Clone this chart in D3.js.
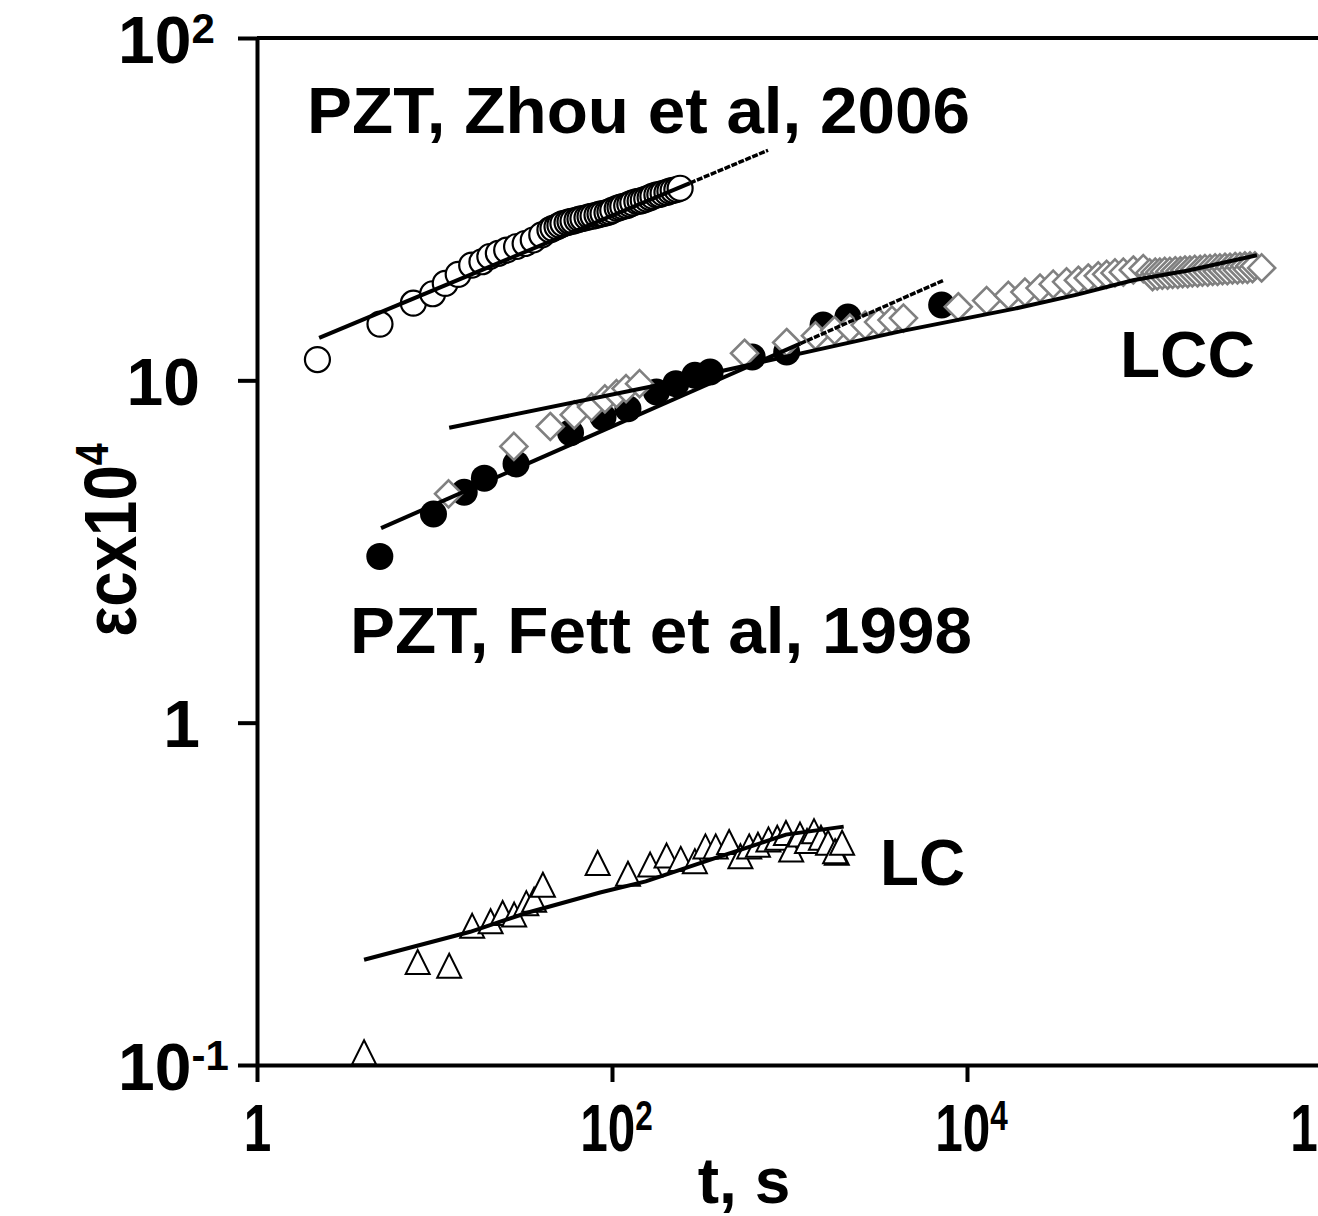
<!DOCTYPE html>
<html>
<head>
<meta charset="utf-8">
<script src="https://cdn.jsdelivr.net/npm/d3@7"></script>
<style>
  body { margin: 0; background: #fff; }
  svg { display: block; }
  text { font-family: Arial, "Liberation Sans", sans-serif; font-weight: bold; fill: #000; }
</style>
</head>
<body>
<svg id="chart" width="1318" height="1216"></svg>
<script>
// ---- data: [t (s), strain x 10^4] ----
const zhouPoints = [
  [2.19, 11.5], [4.93, 14.6], [7.6, 16.8], [9.77, 17.9], [11.5, 19.2], [13.6, 20.4], [16.2, 21.7],
  [18.5, 22.2], [20.5, 23.0], [22.9, 23.5], [25.5, 24.0], [29.0, 24.6], [32.4, 25.1], [36.0, 25.7],
  [40.2, 26.6], [44.7, 27.5], [46.5, 27.8], [49.0, 28.1], [50.9, 28.4], [52.9, 28.7], [55.8, 28.9],
  [58.0, 29.1], [60.3, 29.2], [63.5, 29.4], [66.0, 29.6], [68.6, 29.7], [72.3, 29.9], [75.2, 30.1],
  [78.2, 30.2], [82.3, 30.4], [85.6, 30.6], [89.0, 30.7], [93.7, 30.9], [97.4, 31.1], [101, 31.4],
  [107, 31.8], [111, 32.0], [115, 32.2], [121, 32.4], [126, 32.7], [131, 33.0], [138, 33.3],
  [144, 33.4], [150, 33.6], [157, 33.9], [164, 34.2], [170, 34.5], [179, 34.8], [186, 34.9],
  [194, 35.2], [204, 35.4], [212, 35.7], [221, 35.9], [232, 36.1], [242, 36.4]
];

const fettPoints = [
  [4.92, 3.06], [9.87, 4.07], [14.7, 4.71], [19.1, 5.18], [28.8, 5.70], [58.4, 7.03], [89.0, 7.81],
  [123, 8.26], [178, 9.25], [229, 9.78], [293, 10.35], [357, 10.58], [617, 11.7], [964, 12.1],
  [1546, 14.5], [2133, 15.3], [7199, 16.6]
];

const lccPoints = [
  [12.0, 4.66], [28.0, 6.41], [44.9, 7.33], [61.3, 7.93], [76.7, 8.36], [91.2, 8.83], [106, 9.14],
  [120, 9.46], [143, 9.78], [558, 12.0], [964, 12.9], [1400, 13.5], [1795, 14.0], [2188, 14.2],
  [2670, 14.5], [3177, 14.8], [3779, 15.0], [4385, 15.2], [8933, 16.4], [12900, 17.1], [17100, 17.7],
  [21200, 18.1], [25800, 18.6], [30600, 19.1], [36400, 19.4], [42400, 19.6], [48200, 19.9],
  [54900, 20.2], [61200, 20.4], [68200, 20.6], [76000, 20.7], [86500, 21.0], [98400, 21.2],
  [107000, 20.6], [111000, 20.1], [115000, 20.7], [118000, 20.2], [122000, 20.7], [126000, 20.3],
  [130000, 20.8], [135000, 20.3], [139000, 20.8], [144000, 20.4], [149000, 20.9], [154000, 20.4],
  [159000, 20.9], [164000, 20.5], [169000, 21.0], [175000, 20.5], [180000, 21.0], [186000, 20.6],
  [192000, 21.1], [199000, 20.6], [206000, 21.1], [212000, 20.7], [219000, 21.2], [227000, 20.7],
  [234000, 21.2], [242000, 20.8], [250000, 21.3], [258000, 20.8], [266000, 21.3], [275000, 20.9],
  [284000, 21.4], [293000, 20.9], [303000, 21.4], [313000, 21.0], [324000, 21.5], [334000, 21.0],
  [345000, 21.5], [357000, 21.1], [368000, 21.6], [380000, 21.1], [393000, 21.6], [406000, 21.2],
  [419000, 21.6], [457000, 21.3]
];

const lcPoints = [
  [4.01, 0.109], [8.04, 0.200], [12.1, 0.195], [16.3, 0.255], [20.7, 0.263], [24.2, 0.278],
  [28.1, 0.275], [32.9, 0.297], [36.4, 0.304], [40.8, 0.336], [83.0, 0.389], [123, 0.362],
  [164, 0.385], [203, 0.409], [244, 0.400], [293, 0.394], [336, 0.435], [384, 0.435], [457, 0.448],
  [529, 0.407], [593, 0.435], [664, 0.440], [761, 0.456], [853, 0.461], [955, 0.476], [1022, 0.426],
  [1146, 0.471], [1255, 0.451], [1374, 0.482], [1504, 0.461], [1649, 0.446], [1847, 0.417],
  [1807, 0.421], [1978, 0.446]
];

// fitted curves
const zhouFit = [[2.24, 13.3], [275, 37.7]];
const zhouFitExt = [[275, 37.7], [757, 47.0]];
const fettFit = [[5.0, 3.70], [1150, 12.8]];
const fettFitExt = [[1150, 12.8], [7380, 19.6]];
const lccFit = [[12.1, 7.27], [175, 9.64], [4200, 13.9], [18600, 16.2], [41700, 17.8], [86100, 19.6], [173500, 20.9], [430000, 23.2]];
const lcFit = [[4.01, 0.203], [15.9, 0.245], [32.9, 0.278], [85.7, 0.319], [155, 0.344], [244, 0.372], [384, 0.403], [606, 0.435], [955, 0.471], [2020, 0.497]];

// ticks
const xTickValues = [1, 1e2, 1e4, 1e6];
const xTickBase = ["1", "10", "10", "10"];
const xTickExp = ["", "2", "4", "6"];
const yTickValues = [0.1, 1, 10, 100];
const yTickBase = ["10", "1", "10", "10"];
const yTickExp = ["-1", "", "", "2"];

// annotations
const notes = [
  { text: "PZT, Zhou et al, 2006", x: 307, y: 133, len: 663 },
  { text: "PZT, Fett et al, 1998", x: 350, y: 653, len: 622 },
  { text: "LCC", x: 1120, y: 377, len: 135 },
  { text: "LC", x: 880, y: 885, len: 85 }
];

const width = 1318;
const height = 1216;
const svg = d3.select("#chart");

const x = d3.scaleLog().domain([1, 1e6]).range([257, 1322]);
const y = d3.scaleLog().domain([0.1, 100]).range([1065, 38]);

const line = d3.line().x(d => x(d[0])).y(d => y(d[1]));

// custom marker shapes
const diamond = {
  draw(ctx, size) {
    const r = Math.sqrt(size) / 2;
    ctx.moveTo(0, -r); ctx.lineTo(r, 0); ctx.lineTo(0, r); ctx.lineTo(-r, 0); ctx.closePath();
  }
};
const triangle = {
  draw(ctx, size) {
    const w = Math.sqrt(size);
    ctx.moveTo(0, -w / 2); ctx.lineTo(w / 2, w / 2); ctx.lineTo(-w / 2, w / 2); ctx.closePath();
  }
};

// top frame line
svg.append("line")
  .attr("x1", x(1)).attr("x2", width)
  .attr("y1", y(100)).attr("y2", y(100))
  .attr("stroke", "#000").attr("stroke-width", 4);

// y axis
const yAxis = svg.append("g")
  .attr("transform", `translate(${x(1)},0)`)
  .call(d3.axisLeft(y).tickValues(yTickValues).tickSize(19).tickSizeOuter(0).tickFormat(""));
yAxis.select(".domain").attr("stroke-width", 4);
yAxis.selectAll(".tick line").attr("stroke-width", 4);
yAxis.selectAll(".tick").each(function(d, i) {
  const t = d3.select(this).append("text")
    .attr("font-size", 66)
    .attr("y", 24)
    .attr("x", yTickExp[i] ? -139 : -57)
    .attr("text-anchor", yTickExp[i] ? "start" : "end")
    .style("fill", "#000");
  t.append("tspan").text(yTickBase[i]);
  if (yTickExp[i]) t.append("tspan").attr("font-size", 42).attr("dy", -20).text(yTickExp[i]);
});

// x axis
const xAxis = svg.append("g")
  .attr("transform", `translate(0,${y(0.1)})`)
  .call(d3.axisBottom(x).tickValues(xTickValues).tickSize(17).tickSizeOuter(0).tickFormat(""));
xAxis.select(".domain").attr("stroke-width", 4);
xAxis.selectAll(".tick line").attr("stroke-width", 4);
xAxis.selectAll(".tick").each(function(d, i) {
  const t = d3.select(this).append("text")
    .attr("font-size", 66)
    .attr("transform", `translate(${xTickExp[i] ? 4 : 0},86) scale(0.75,1)`)
    .attr("text-anchor", "middle")
    .style("fill", "#000");
  t.append("tspan").text(xTickBase[i]);
  if (xTickExp[i]) t.append("tspan").attr("font-size", 42).attr("dy", -21).text(xTickExp[i]);
});

// axis titles
svg.append("text")
  .attr("x", 744).attr("y", 1203)
  .attr("text-anchor", "middle")
  .attr("font-size", 64)
  .text("t, s");

const yTitle = svg.append("text")
  .attr("transform", "translate(136,540) rotate(-90) scale(0.86,1)")
  .attr("text-anchor", "middle")
  .attr("font-size", 74);
yTitle.append("tspan").text("εcx10");
yTitle.append("tspan").attr("font-size", 46).attr("dy", -28).text("4");

// markers: triangles, filled circles, diamonds, open circles
svg.append("g").selectAll("path")
  .data(lcPoints).join("path")
  .attr("transform", d => `translate(${x(d[0])},${y(d[1])})`)
  .attr("d", d3.symbol().type(triangle).size(24 * 24))
  .attr("fill", "#fff").attr("stroke", "#000").attr("stroke-width", 2);

svg.append("g").selectAll("circle")
  .data(fettPoints).join("circle")
  .attr("cx", d => x(d[0])).attr("cy", d => y(d[1]))
  .attr("r", 13.5).attr("fill", "#000");

svg.append("g").selectAll("path")
  .data(lccPoints).join("path")
  .attr("transform", d => `translate(${x(d[0])},${y(d[1])})`)
  .attr("d", d3.symbol().type(diamond).size(27 * 27))
  .attr("fill", "#fff").attr("stroke", "#808080").attr("stroke-width", 2.6);

svg.append("g").selectAll("circle")
  .data(zhouPoints).join("circle")
  .attr("cx", d => x(d[0])).attr("cy", d => y(d[1]))
  .attr("r", 12.5).attr("fill", "#fff").attr("stroke", "#000").attr("stroke-width", 2.2);

// fitted lines on top
[zhouFit, fettFit, lccFit, lcFit].forEach(s => {
  svg.append("path").datum(s)
    .attr("fill", "none").attr("stroke", "#000").attr("stroke-width", 4)
    .attr("d", line);
});
[zhouFitExt, fettFitExt].forEach(s => {
  svg.append("path").datum(s)
    .attr("fill", "none").attr("stroke", "#000").attr("stroke-width", 3.5)
    .attr("stroke-dasharray", "6,1.5")
    .attr("d", line);
});

// annotations
svg.selectAll("text.note")
  .data(notes).join("text")
  .attr("class", "note")
  .attr("x", d => d.x).attr("y", d => d.y)
  .attr("font-size", 64)
  .attr("textLength", d => d.len)
  .attr("lengthAdjust", "spacingAndGlyphs")
  .text(d => d.text);
</script>
</body>
</html>
